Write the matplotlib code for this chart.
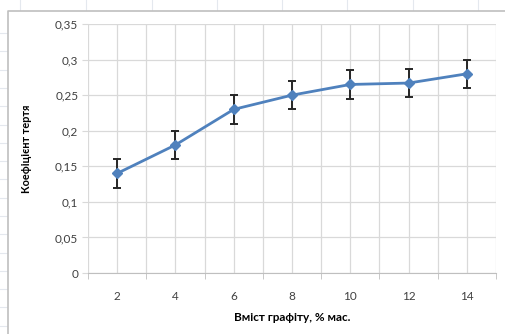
import matplotlib
matplotlib.use("Agg")
from matplotlib import pyplot as plt
from matplotlib.lines import Line2D
import numpy as np

# дані
graphite = ["2", "4", "6", "8", "10", "12", "14"]
friction = [0.14, 0.18, 0.23, 0.25, 0.265, 0.267, 0.28]
err = [0.02, 0.02, 0.02, 0.02, 0.02, 0.02, 0.02]
y_ticks = [0, 0.05, 0.1, 0.15, 0.2, 0.25, 0.3, 0.35]
y_labels = ["0", "0,05", "0,1", "0,15", "0,2", "0,25", "0,3", "0,35"]

plt.rcParams['font.family'] = ['Lato', 'DejaVu Sans']

W, H = 506, 334
fig = plt.figure(figsize=(W / 100, H / 100), dpi=100)

# фон таблиці Excel
for yy in np.arange(33, H, 18.3):
    fig.add_artist(Line2D([0, 7 / W], [1 - yy / H] * 2, color="#e4e8ee", lw=0.8))
for xx in [20, 86, 152, 217, 282, 347, 413, 478]:
    fig.add_artist(Line2D([xx / W] * 2, [1, 1 - 10 / H], color="#e4e8ee", lw=0.8))
# рамка діаграми
fig.add_artist(Line2D([8 / W, 8 / W, 1], [0, 1 - 11 / H, 1 - 11 / H], color="#bfbfbf", lw=1.2))

ax = fig.add_axes([88 / W, 1 - 273 / H, 408 / W, 249 / H])
x = np.arange(len(graphite))

ax.errorbar(x, friction, yerr=err, color="#4f81bd", lw=2, marker="D", ms=5.5,
            ecolor="#262626", elinewidth=1.4, capsize=3, capthick=1.4, zorder=3)

ax.set_xlim(-0.5, len(graphite) - 0.5)
ax.set_ylim(0, 0.35)
ax.set_yticks(y_ticks)
ax.set_yticklabels(y_labels)
ax.set_xticks(x)
ax.set_xticklabels(graphite)
ax.set_xticks(np.arange(-0.5, len(graphite)), minor=True)

ax.grid(True, which="both", color="#d9d9d9", lw=0.9)
ax.set_axisbelow(True)
for s in ["top", "right", "left"]:
    ax.spines[s].set_visible(False)
ax.spines["bottom"].set_color("#bfbfbf")

ax.tick_params(axis="x", which="major", length=0, pad=13, labelsize=8.5, labelcolor="#404040")
ax.tick_params(axis="x", which="minor", length=4, color="#bfbfbf")
ax.tick_params(axis="y", length=4, color="#d9d9d9", pad=3, labelsize=8.5, labelcolor="#404040")

ax.set_xlabel("Вміст графіту, % мас.", fontsize=8.5, fontweight="bold", labelpad=7)
ax.set_ylabel("Коефіцієнт тертя", fontsize=7.8, fontweight="bold")
ax.yaxis.set_label_coords(-56 / 408, 0.5)

fig.savefig("out.png", dpi=100)
